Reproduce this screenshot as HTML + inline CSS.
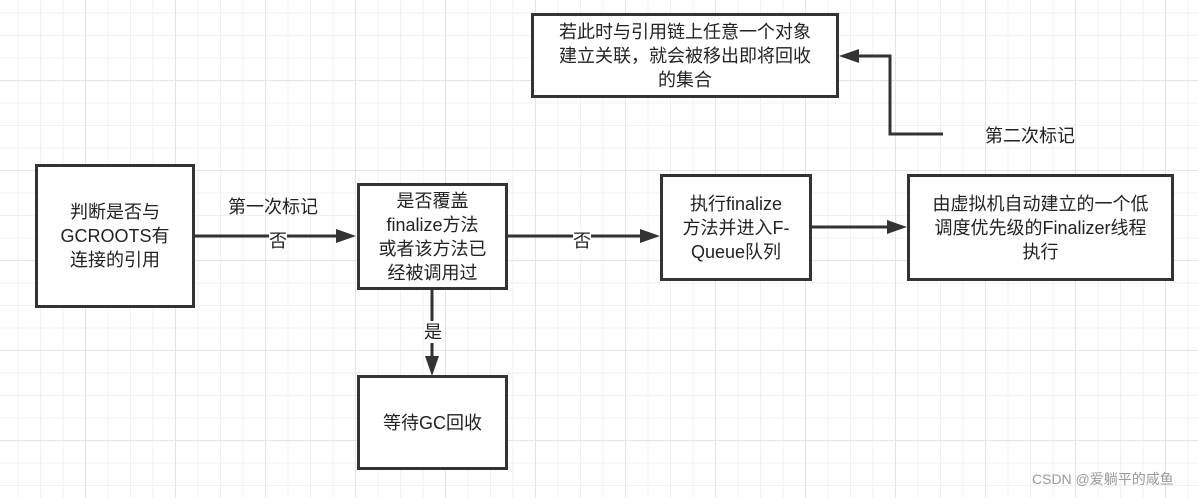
<!DOCTYPE html>
<html><head><meta charset="utf-8"><style>
body{margin:0;width:1198px;height:498px;overflow:hidden;background:#fff;font-family:"Liberation Sans","Noto Sans CJK SC",sans-serif;}
.g{position:absolute;left:0;top:0;width:1198px;height:498px;
background-image:linear-gradient(#e4e4e4 1px,transparent 1px),linear-gradient(90deg,#e4e4e4 1px,transparent 1px),linear-gradient(#f0f0f0 1px,transparent 1px),linear-gradient(90deg,#f0f0f0 1px,transparent 1px);
background-size:90px 90px,90px 90px,22.5px 22.5px,22.5px 22.5px;background-position:-5px -10px;}
.b{position:absolute;box-sizing:border-box;border:3px solid #333;background:#fff;display:flex;align-items:center;justify-content:center;text-align:center;font-size:18px;line-height:24px;color:#222;}
.t{position:absolute;font-size:18px;line-height:22px;color:#222;white-space:nowrap;}
</style></head><body>
<div class="g"></div>
<svg width="1198" height="498" style="position:absolute;left:0;top:0">
<g stroke="#333" stroke-width="3" fill="none">
<path d="M194,236H340"/>
<path d="M336,229L356,236L336,243Z" fill="#333" stroke="none"/>
<path d="M507,236H645"/><path d="M640,229L660,236L640,243Z" fill="#333" stroke="none"/>
<path d="M811,227H892"/><path d="M887,220L907,227L887,234Z" fill="#333" stroke="none"/>
<path d="M432,289V360"/><path d="M425,356L432,376L439,356Z" fill="#333" stroke="none"/>
<path d="M943,134H890V56H855"/><path d="M859,49L839,56L859,63Z" fill="#333" stroke="none"/>
</g></svg>
<div class="b" style="left:35px;top:164px;width:160px;height:144px">判断是否与<br>GCROOTS有<br>连接的引用</div>
<div class="b" style="left:357px;top:183px;width:151px;height:107px">是否覆盖<br>finalize方法<br>或者该方法已<br>经被调用过</div>
<div class="b" style="left:660px;top:174px;width:152px;height:107px">执行finalize<br>方法并进入F-<br>Queue队列</div>
<div class="b" style="left:907px;top:174px;width:267px;height:107px">由虚拟机自动建立的一个低<br>调度优先级的Finalizer线程<br>执行</div>
<div class="b" style="left:531px;top:13px;width:308px;height:85px">若此时与引用链上任意一个对象<br>建立关联，就会被移出即将回收<br>的集合</div>
<div class="b" style="left:357px;top:375px;width:151px;height:95px">等待GC回收</div>
<div class="t" style="left:228px;top:196px">第一次标记</div>
<div class="t" style="left:269px;top:230px;background:#fff">否</div>
<div class="t" style="left:573px;top:230px;background:#fff">否</div>
<div class="t" style="left:424px;top:321px;background:#fff">是</div>
<div class="t" style="left:985px;top:125px">第二次标记</div>
<div class="t" style="left:1032px;top:468px;font-size:14px;color:#999">CSDN @爱躺平的咸鱼</div>
</body></html>
